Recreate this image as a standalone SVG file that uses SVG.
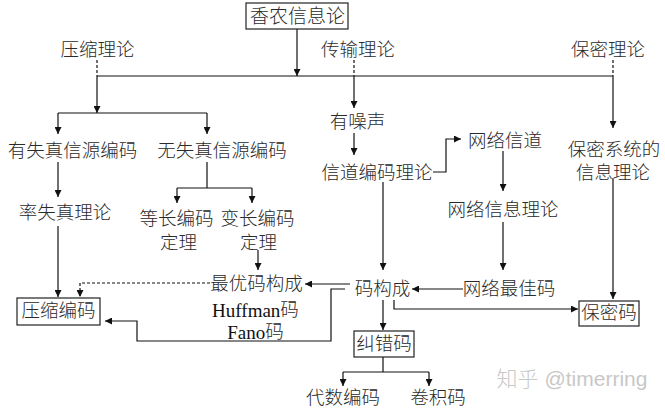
<svg xmlns="http://www.w3.org/2000/svg" width="665" height="410" viewBox="0 0 665 410">
<defs>
<marker id="ah" markerUnits="userSpaceOnUse" markerWidth="7" markerHeight="7" refX="7" refY="3.5" orient="auto"><path d="M0,0 L7,3.5 L0,7 z" fill="#111"/></marker>
<style>
text{font-family:"Liberation Serif","Noto Sans CJK SC",serif;font-size:18.5px;font-weight:300;fill:#2a2a2a;text-anchor:middle;dominant-baseline:central}
.lat{font-weight:normal;font-size:19px;fill:#111}
.box{fill:#fff;stroke:#222;stroke-width:1.2}
.c{fill:none;stroke:#111;stroke-width:1.2}
.a{marker-end:url(#ah)}
.d{stroke-dasharray:3,2}
.wm{fill:#c8c8c8;font-size:21px;font-family:"Liberation Sans","Noto Sans CJK SC",sans-serif}
</style>
</defs>
<rect width="665" height="410" fill="#fff"/>
<g id="connectors">
<path class="c a" d="M297,29 V76"/>
<path class="c d" d="M97,60 V76 M354,60 V76 M613,60 V76"/>
<path class="c" d="M97,76 H613"/>
<path class="c a" d="M97,76 V113"/>
<path class="c" d="M58,113 H207"/>
<path class="c a" d="M58,113 V134"/>
<path class="c a" d="M207,113 V134"/>
<path class="c a" d="M354,76 V108"/>
<path class="c a" d="M613,76 V128"/>
<path class="c a" d="M58,162 V197"/>
<path class="c a" d="M58,226 V297"/>
<path class="c" d="M207,162 V188 M177,188 H252"/>
<path class="c a" d="M177,188 V203"/>
<path class="c a" d="M252,188 V203"/>
<path class="c a" d="M258,250 V270"/>
<path class="c d a" d="M210,283 H80 V297"/>
<path class="c a" d="M350,284 H305"/>
<path class="c a" d="M345,289 H331 V341 H137 V321 H105"/>
<path class="c a" d="M354,133 V155"/>
<path class="c a" d="M433,172 H446 V139 H461"/>
<path class="c a" d="M503,151 V191"/>
<path class="c a" d="M503,222 V270"/>
<path class="c a" d="M383,182 V270"/>
<path class="c a" d="M463,289 H412"/>
<path class="c a" d="M383,300 V330"/>
<path class="c a" d="M394,300 V309 H578"/>
<path class="c a" d="M613,178 V299"/>
<path class="c" d="M383,357 V372 M343,372 H429"/>
<path class="c a" d="M343,372 V386"/>
<path class="c a" d="M429,372 V386"/>
</g>
<g id="shannon"><rect class="box" x="246" y="3" width="102" height="26"/><text x="297.5" y="16" style="font-size:19px">香农信息论</text></g>
<g id="compress-theory"><text x="97.5" y="50">压缩理论</text></g>
<g id="transmit-theory"><text x="358" y="50">传输理论</text></g>
<g id="secrecy-theory"><text x="608" y="50">保密理论</text></g>
<g id="lossy"><text x="72.5" y="151">有失真信源编码</text></g>
<g id="lossless"><text x="222" y="151">无失真信源编码</text></g>
<g id="rate-distortion"><text x="65" y="213">率失真理论</text></g>
<g id="fixed-len"><text x="176.5" y="219">等长编码</text><text x="178.5" y="243">定理</text></g>
<g id="var-len"><text x="257.5" y="219">变长编码</text><text x="258.5" y="243">定理</text></g>
<g id="optimal"><text x="256.5" y="284">最优码构成</text><text x="255.5" y="310"><tspan class="lat">Huffman</tspan>码</text><text x="255.5" y="332"><tspan class="lat">Fano</tspan>码</text></g>
<g id="compress-code"><rect class="box" x="17" y="298" width="83" height="27"/><text x="58.5" y="311">压缩编码</text></g>
<g id="noisy"><text x="357.5" y="122">有噪声</text></g>
<g id="channel-coding"><text x="377" y="173">信道编码理论</text></g>
<g id="net-channel"><text x="505" y="141">网络信道</text></g>
<g id="net-info"><text x="503" y="210">网络信息理论</text></g>
<g id="net-best"><text x="509" y="289">网络最佳码</text></g>
<g id="code-construct"><text x="382.5" y="289">码构成</text></g>
<g id="ecc"><rect class="box" x="354" y="331" width="60" height="26"/><text x="384" y="344">纠错码</text></g>
<g id="secrecy-system"><text x="614" y="150">保密系统的</text><text x="613" y="173">信息理论</text></g>
<g id="secrecy-code"><rect class="box" x="579" y="301" width="60" height="25"/><text x="609" y="313">保密码</text></g>
<g id="algebraic"><text x="343" y="398">代数编码</text></g>
<g id="convolutional"><text x="438" y="398">卷积码</text></g>
<text class="wm" x="572" y="378">知乎 @timerring</text>
</svg>
